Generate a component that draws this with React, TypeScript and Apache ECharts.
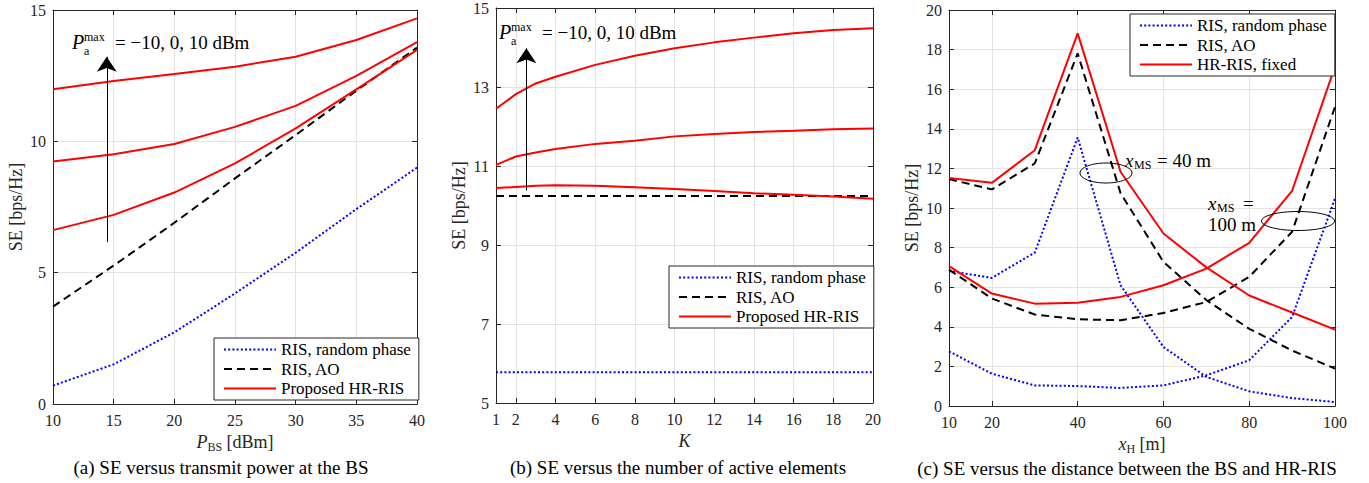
import React, { useEffect, useRef } from 'react';
import * as echarts from 'echarts';

const FONT = "'Liberation Serif', 'Times New Roman', serif";
const AXC = '#262626';
const GRIDC = '#e3e3e3';

// ---------- Panel (a): SE vs P_BS ----------
const xA = [10, 15, 20, 25, 30, 35, 40];
const randA = [0.70, 1.51, 2.73, 4.21, 5.76, 7.42, 9.00];
const aoA = [3.71, 5.27, 6.90, 8.59, 10.24, 11.93, 13.57];
const hrAm10 = [6.62, 7.20, 8.05, 9.16, 10.49, 11.98, 13.48];
const hrA0 = [9.23, 9.51, 9.90, 10.55, 11.35, 12.49, 13.78];
const hrA10 = [11.98, 12.30, 12.56, 12.84, 13.22, 13.86, 14.68];

// ---------- Panel (b): SE vs K ----------
const xB = [1, 2, 3, 4, 6, 8, 10, 12, 14, 16, 18, 20];
const randB = [5.78, 5.78, 5.78, 5.78, 5.78, 5.78, 5.78, 5.78, 5.78, 5.78, 5.78, 5.78];
const aoB = [10.24, 10.24, 10.24, 10.24, 10.24, 10.24, 10.24, 10.24, 10.24, 10.24, 10.24, 10.24];
const hrBm10 = [10.44, 10.47, 10.50, 10.51, 10.50, 10.46, 10.42, 10.37, 10.31, 10.27, 10.23, 10.17];
const hrB0 = [11.03, 11.24, 11.34, 11.43, 11.56, 11.64, 11.75, 11.81, 11.86, 11.89, 11.93, 11.95];
const hrB10 = [12.45, 12.82, 13.09, 13.26, 13.56, 13.79, 13.98, 14.13, 14.25, 14.36, 14.44, 14.49];
const xBTicks = [1, 2, 4, 6, 8, 10, 12, 14, 16, 18, 20];
const yBTicks = [5, 7, 9, 11, 13, 15];

// ---------- Panel (c): SE vs x_H ----------
const xC = [10, 20, 30, 40, 50, 60, 70, 80, 90, 100];
const rand40 = [6.82, 6.47, 7.75, 13.56, 6.10, 2.98, 1.47, 0.74, 0.40, 0.20];
const ao40 = [11.46, 10.94, 12.25, 17.81, 10.75, 7.28, 5.35, 3.90, 2.80, 1.89];
const fixed40 = [11.52, 11.27, 12.92, 18.82, 11.83, 8.71, 7.00, 5.58, 4.72, 3.86];
const rand100 = [2.76, 1.63, 1.04, 1.01, 0.91, 1.04, 1.55, 2.31, 4.50, 10.48];
const ao100 = [6.89, 5.43, 4.62, 4.38, 4.33, 4.70, 5.25, 6.52, 8.80, 15.11];
const fixed100 = [7.06, 5.68, 5.17, 5.21, 5.51, 6.10, 6.94, 8.24, 10.87, 17.14];
const xCTicks = [10, 20, 40, 60, 80, 100];

const legendAB = ['RIS, random phase', 'RIS, AO', 'Proposed HR-RIS'];
const legendC = ['RIS, random phase', 'RIS, AO', 'HR-RIS, fixed'];

const BLUE = { color: '#0000ff', width: 2, type: [2, 2.2] as any, cap: 'butt' };
const BLACK = { color: '#000000', width: 2, type: [8, 5] as any, cap: 'butt' };
const RED = { color: '#ff0000', width: 2, type: 'solid' };

function ser(name: string, xs: number[], ys: number[], ls: any, gi: number, z = 3, extra: any = {}) {
  return {
    type: 'line',
    name,
    xAxisIndex: gi,
    yAxisIndex: gi,
    data: xs.map((x, i) => [x, ys[i]]),
    symbol: 'none',
    showSymbol: false,
    lineStyle: { ...ls },
    itemStyle: { color: ls.color },
    color: ls.color,
    silent: true,
    z,
    ...extra,
  };
}

function arrowMark(x: number, y0: number, y1: number) {
  return {
    markLine: {
      silent: true,
      symbol: ['none', 'arrow'],
      symbolSize: 15,
      label: { show: false },
      lineStyle: { color: '#000', width: 1, type: 'solid' },
      data: [[{ coord: [x, y0] }, { coord: [x, y1] }]],
    },
  };
}

const tickLabel = { fontFamily: FONT, fontSize: 16, color: AXC };

function mainX(gi: number, min: number, max: number, name: string, rich: any, opts: any = {}) {
  return {
    type: 'value', gridIndex: gi, min, max, position: 'bottom',
    name, nameLocation: 'middle', nameGap: 27,
    nameTextStyle: { fontFamily: FONT, fontSize: 18, color: AXC, rich },
    axisLine: { show: true, onZero: false, lineStyle: { color: AXC, width: 1 } },
    axisTick: { show: true, inside: true, length: 5, lineStyle: { color: AXC }, ...(opts.tick || {}) },
    axisLabel: { ...tickLabel, margin: 8, ...(opts.label || {}) },
    splitLine: { show: true, lineStyle: { color: GRIDC, width: 1 } },
    ...(opts.interval ? { interval: opts.interval } : {}),
  };
}
function topX(gi: number, min: number, max: number, opts: any = {}) {
  return {
    type: 'value', gridIndex: gi, min, max, position: 'top',
    axisLine: { show: true, onZero: false, lineStyle: { color: AXC, width: 1 } },
    axisTick: { show: true, inside: true, length: 5, lineStyle: { color: AXC }, ...(opts.tick || {}) },
    axisLabel: { show: false },
    splitLine: { show: false },
    ...(opts.interval ? { interval: opts.interval } : {}),
  };
}
function mainY(gi: number, min: number, max: number, opts: any = {}) {
  return {
    type: 'value', gridIndex: gi, min, max, position: 'left',
    name: 'SE [bps/Hz]', nameLocation: 'middle', nameGap: 28,
    nameTextStyle: { fontFamily: FONT, fontSize: 18, color: AXC },
    axisLine: { show: true, onZero: false, lineStyle: { color: AXC, width: 1 } },
    axisTick: { show: true, inside: true, length: 5, lineStyle: { color: AXC }, ...(opts.tick || {}) },
    axisLabel: { ...tickLabel, margin: 7, ...(opts.label || {}) },
    splitLine: { show: true, lineStyle: { color: GRIDC, width: 1 } },
    ...(opts.interval ? { interval: opts.interval } : {}),
  };
}
function rightY(gi: number, min: number, max: number, opts: any = {}) {
  return {
    type: 'value', gridIndex: gi, min, max, position: 'right',
    axisLine: { show: true, onZero: false, lineStyle: { color: AXC, width: 1 } },
    axisTick: { show: true, inside: true, length: 5, lineStyle: { color: AXC }, ...(opts.tick || {}) },
    axisLabel: { show: false },
    splitLine: { show: false },
    ...(opts.interval ? { interval: opts.interval } : {}),
  };
}

function legend(data: string[], left: number, top: number) {
  return {
    data, orient: 'vertical', left, top,
    padding: [3, 8, 3, 9],
    itemWidth: 52, itemHeight: 14, itemGap: 2.5,
    itemStyle: { opacity: 0, borderWidth: 0 },
    backgroundColor: '#ffffff', borderColor: AXC, borderWidth: 1, borderRadius: 0,
    textStyle: { fontFamily: FONT, fontSize: 17, color: '#000', lineHeight: 17 },
    selectedMode: false,
    z: 10,
  };
}

const subRich = {
  i: { fontFamily: FONT, fontSize: 18, fontStyle: 'italic', color: AXC, lineHeight: 22, verticalAlign: 'middle' },
  s: { fontFamily: FONT, fontSize: 12, color: AXC, lineHeight: 12, verticalAlign: 'bottom' },
  n: { fontFamily: FONT, fontSize: 18, color: AXC, lineHeight: 22, verticalAlign: 'middle' },
};

function txt(text: string, x: number, y: number, size: number, italic = false, align = 'left') {
  return {
    type: 'text', x, y, z: 20, silent: true,
    style: {
      text, fill: '#000', fontFamily: FONT, fontSize: size, fontStyle: italic ? 'italic' : 'normal',
      align, verticalAlign: 'middle', textAlign: align, textVerticalAlign: 'middle',
    },
  };
}

function pmaxLabel(x: number, y: number) {
  return [
    txt('P', x, y, 20, true),
    txt('max', x + 12, y - 5, 12),
    txt('a', x + 12, y + 9, 12),
    txt('= \u221210, 0, 10 dBm', x + 43, y, 19),
  ];
}

export default function App() {
  const ref = useRef<HTMLDivElement>(null);
  useEffect(() => {
    if (!ref.current) return;
    const chart = echarts.init(ref.current, null, { renderer: 'svg' });
    const option: any = {
      animation: false,
      backgroundColor: '#ffffff',
      grid: [
        { left: 53, top: 10, width: 364, height: 394 },
        { left: 496, top: 8, width: 377, height: 395 },
        { left: 949, top: 10, width: 386, height: 396 },
      ],
      xAxis: [
        mainX(0, 10, 40, '{i|P}{s|BS}{n| [dBm]}', subRich, { interval: 5 }),
        mainX(1, 1, 20, '{i|K}', subRich, { tick: { customValues: xBTicks }, label: { customValues: xBTicks } }),
        mainX(2, 10, 100, '{i|x}{s|H}{n| [m]}', subRich, { tick: { customValues: xCTicks }, label: { customValues: xCTicks } }),
        topX(0, 10, 40, { interval: 5 }),
        topX(1, 1, 20, { tick: { customValues: xBTicks } }),
        topX(2, 10, 100, { tick: { customValues: xCTicks } }),
      ],
      yAxis: [
        mainY(0, 0, 15, { interval: 5 }),
        mainY(1, 5, 15, { tick: { customValues: yBTicks }, label: { customValues: yBTicks } }),
        mainY(2, 0, 20, { interval: 2 }),
        rightY(0, 0, 15, { interval: 5 }),
        rightY(1, 5, 15, { tick: { customValues: yBTicks } }),
        rightY(2, 0, 20, { interval: 2 }),
      ],
      legend: [
        legend(legendAB, 214, 338),
        legend(legendAB, 669, 266),
        legend(legendC, 1130, 14),
      ],
      series: [
        ser('RIS, random phase', xA, randA, BLUE, 0),
        ser('RIS, AO', xA, aoA, BLACK, 0),
        ser('Proposed HR-RIS', xA, hrAm10, RED, 0, 4, arrowMark(14.43, 6.16, 13.22)),
        ser('Proposed HR-RIS', xA, hrA0, RED, 0, 4),
        ser('Proposed HR-RIS', xA, hrA10, RED, 0, 4),

        ser('RIS, random phase', xB, randB, BLUE, 1),
        ser('RIS, AO', xB, aoB, BLACK, 1),
        ser('Proposed HR-RIS', xB, hrBm10, RED, 1, 4, arrowMark(2.53, 10.38, 13.98)),
        ser('Proposed HR-RIS', xB, hrB0, RED, 1, 4),
        ser('Proposed HR-RIS', xB, hrB10, RED, 1, 4),

        ser('RIS, random phase', xC, rand40, BLUE, 2),
        ser('RIS, random phase', xC, rand100, BLUE, 2),
        ser('RIS, AO', xC, ao40, BLACK, 2),
        ser('RIS, AO', xC, ao100, BLACK, 2),
        ser('HR-RIS, fixed', xC, fixed40, RED, 2, 4),
        ser('HR-RIS, fixed', xC, fixed100, RED, 2, 4),
      ],
      graphic: [
        ...pmaxLabel(72, 42),
        ...pmaxLabel(499, 32),
        // panel (c) annotations
        txt('x', 1125, 160, 19, true),
        txt('MS', 1134, 165, 12),
        txt('= 40 m', 1157, 160, 19),
        { type: 'ellipse', z: 20, silent: true, shape: { cx: 1106, cy: 173, rx: 26, ry: 10 }, style: { fill: 'none', stroke: '#000', lineWidth: 1 } },
        txt('x', 1208, 203, 19, true),
        txt('MS', 1217, 208, 12),
        txt('=', 1243, 203, 19),
        txt('100 m', 1208, 224, 19),
        { type: 'ellipse', z: 20, silent: true, shape: { cx: 1298, cy: 221, rx: 36.5, ry: 9.5 }, style: { fill: 'none', stroke: '#000', lineWidth: 1 } },
        // captions
        txt('(a) SE versus transmit power at the BS', 221, 467, 19, false, 'center'),
        txt('(b) SE versus the number of active elements', 678, 467, 19, false, 'center'),
        txt('(c) SE versus the distance between the BS and HR-RIS', 1127, 468, 19, false, 'center'),
      ],
    };
    chart.setOption(option);
    return () => chart.dispose();
  }, []);
  return (
    <div
      ref={ref}
      style={{ position: 'fixed', left: 0, top: 0, width: 1369, height: 483, background: '#fff' }}
    />
  );
}
